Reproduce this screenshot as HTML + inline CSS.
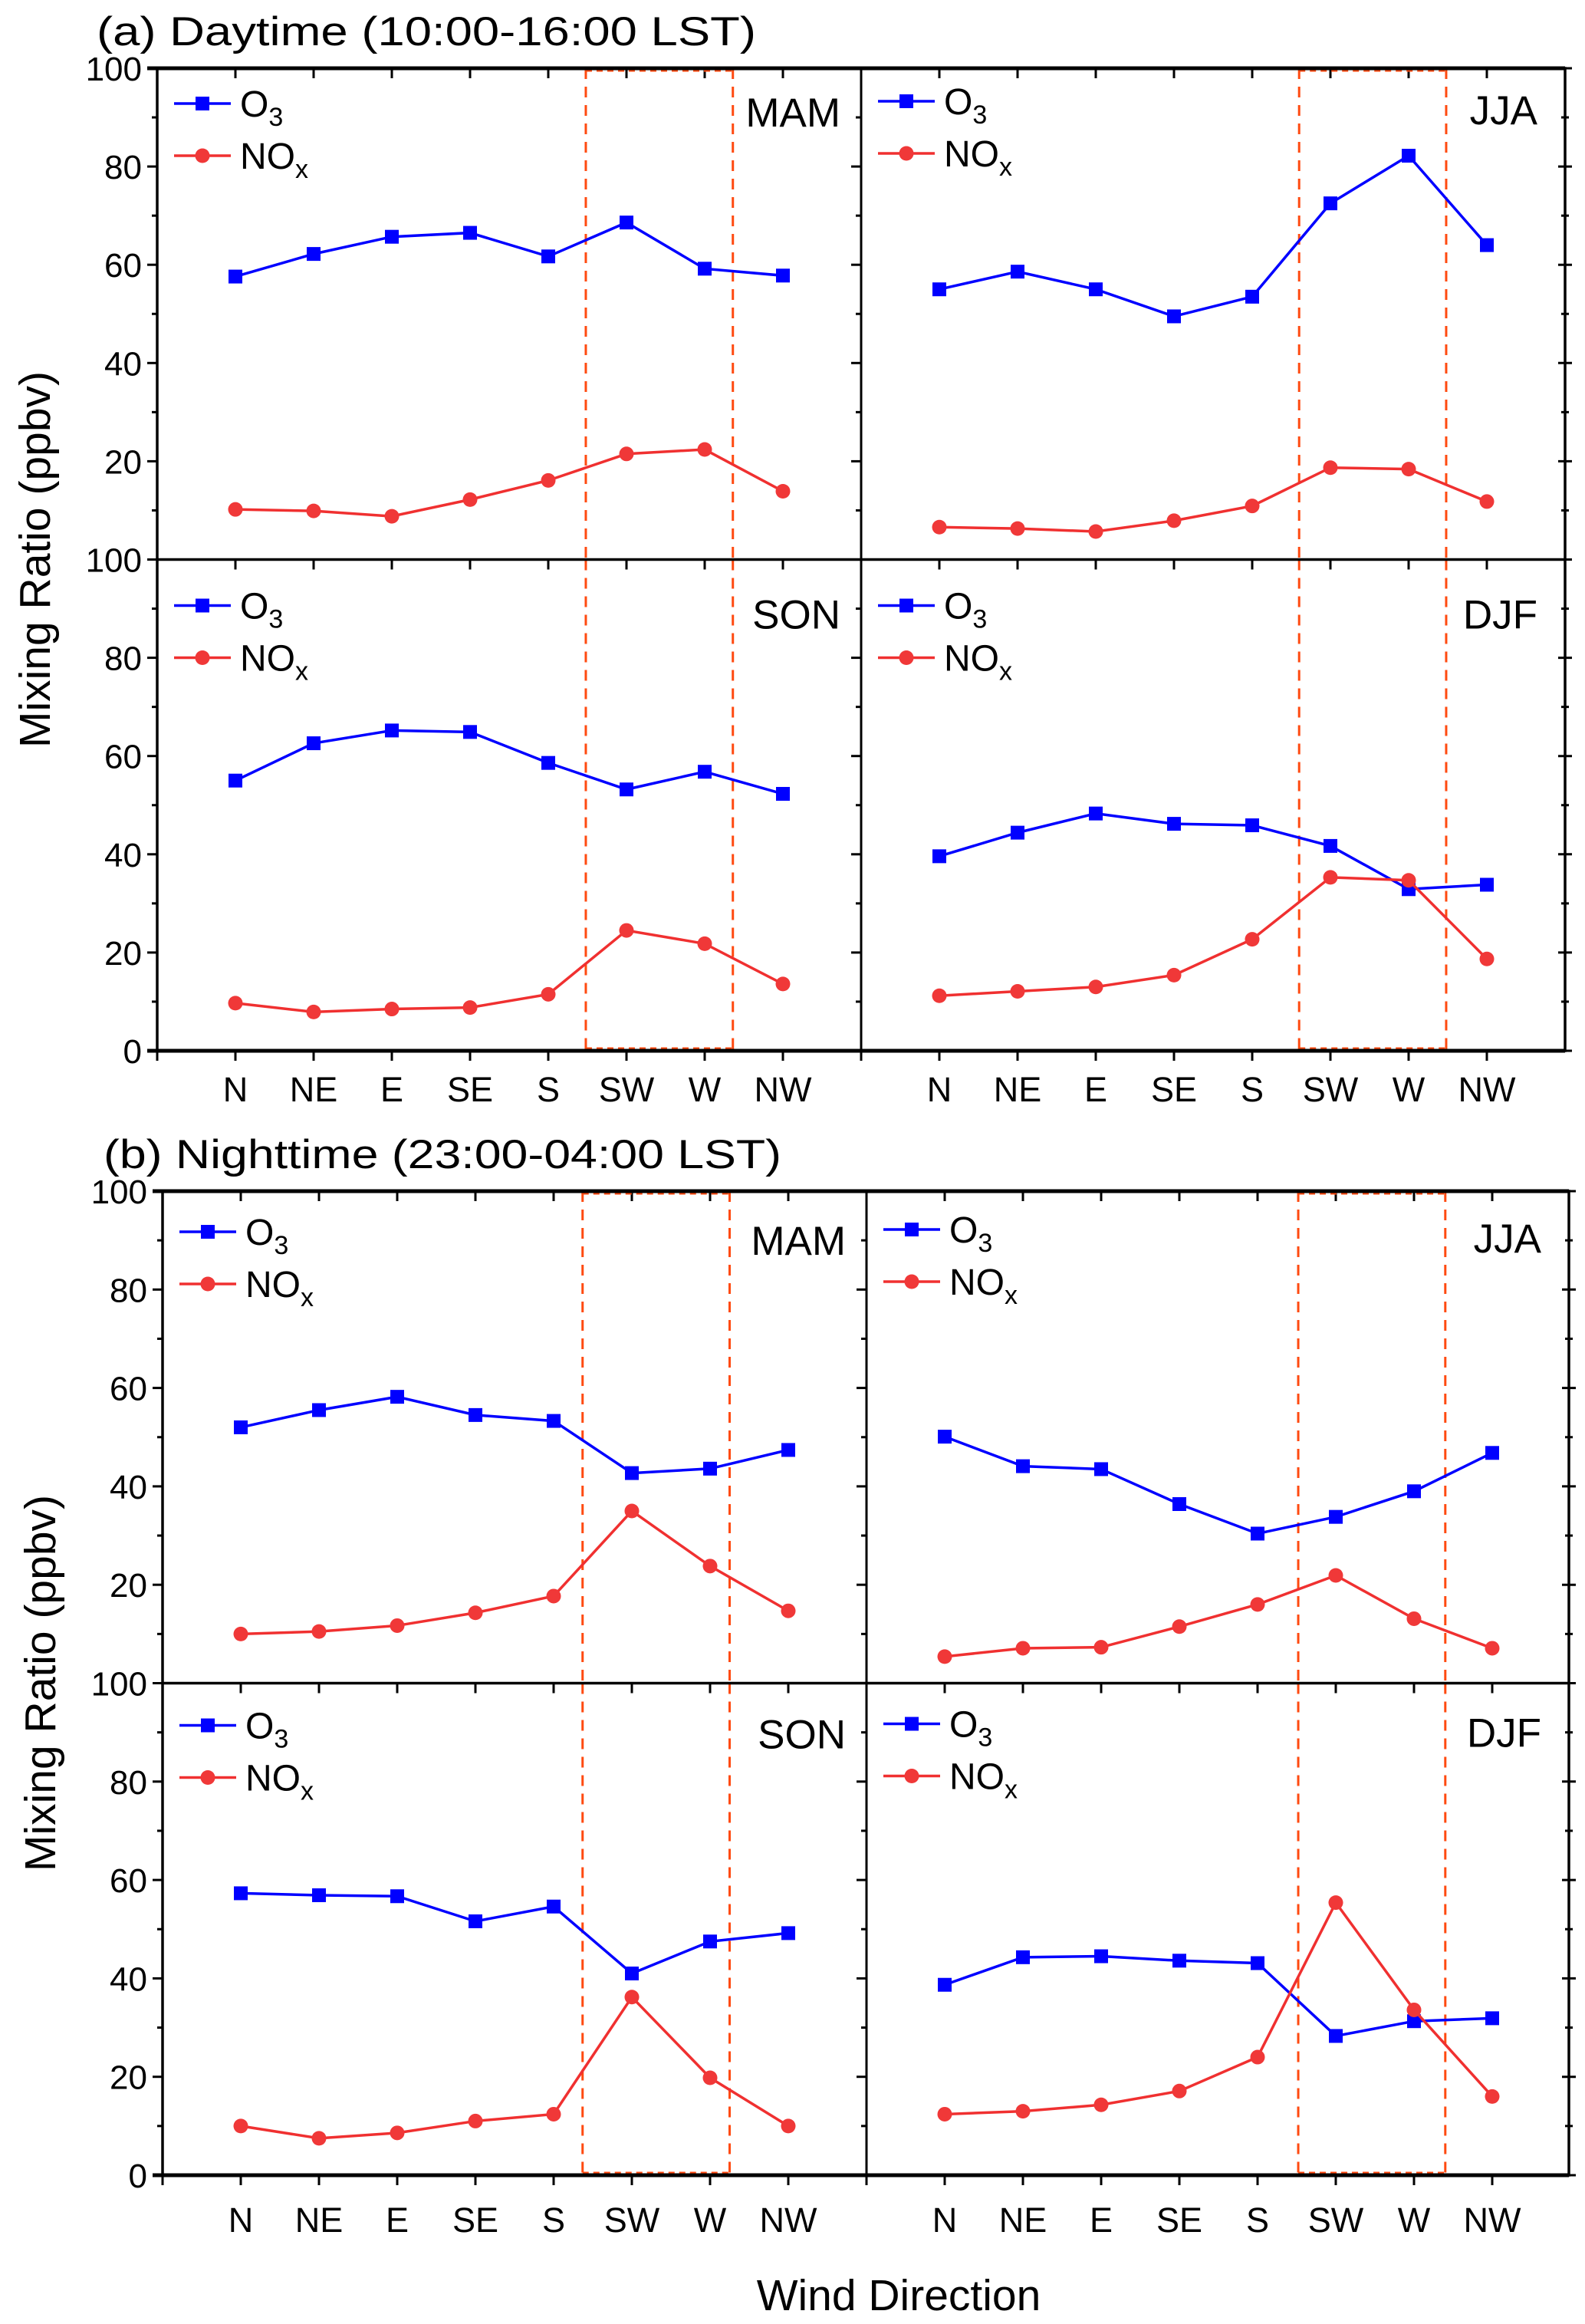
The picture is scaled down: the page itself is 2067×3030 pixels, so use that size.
<!DOCTYPE html>
<html><head><meta charset="utf-8"><style>
html,body{margin:0;padding:0;background:#fff;}
svg{display:block;font-family:"Liberation Sans",Arial,sans-serif;}
</style></head><body>
<svg id="chart" width="2067" height="3030" viewBox="0 0 2067 3030" xmlns="http://www.w3.org/2000/svg"></svg>
<script>
const categories = ["N","NE","E","SE","S","SW","W","NW"];
const yTicks = [0,20,40,60,80,100];
const seasons = ["MAM","JJA","SON","DJF"];
// Daytime
const dayO3_MAM = [57.6,62.2,65.7,66.5,61.7,68.6,59.2,57.8];
const dayNOx_MAM = [10.2,9.9,8.8,12.2,16.1,21.5,22.4,13.9];
const dayO3_JJA = [55.0,58.6,55.0,49.5,53.5,72.5,82.2,64.0];
const dayNOx_JJA = [6.6,6.3,5.7,7.9,10.9,18.7,18.4,11.8];
const dayO3_SON = [55.0,62.6,65.2,64.9,58.6,53.2,56.8,52.3];
const dayNOx_SON = [9.7,7.9,8.5,8.8,11.5,24.5,21.8,13.6];
const dayO3_DJF = [39.6,44.4,48.3,46.2,45.9,41.7,32.9,33.8];
const dayNOx_DJF = [11.2,12.1,13.0,15.4,22.7,35.3,34.7,18.7];
// Nighttime
const nightO3_MAM = [52.0,55.5,58.2,54.5,53.3,42.7,43.6,47.4];
const nightNOx_MAM = [10.0,10.5,11.7,14.3,17.7,35.0,23.8,14.7];
const nightO3_JJA = [50.1,44.1,43.5,36.4,30.4,33.8,39.0,46.8];
const nightNOx_JJA = [5.4,7.1,7.3,11.5,16.0,21.9,13.1,7.1];
const nightO3_SON = [57.3,56.9,56.7,51.6,54.6,41.0,47.5,49.2];
const nightNOx_SON = [10.0,7.5,8.6,11.0,12.4,36.2,19.8,10.0];
const nightO3_DJF = [38.7,44.3,44.5,43.6,43.1,28.3,31.3,31.9];
const nightNOx_DJF = [12.4,13.0,14.3,17.1,24.0,55.4,33.6,16.0];
// Highlighted sector bounds (category units)
const dayBoxL = [5.48,7.36], dayBoxR = [5.6,7.48];
const nightBoxL = [5.37,7.25], nightBoxR = [5.52,7.4];

const NS="http://www.w3.org/2000/svg";
const svg=document.getElementById('chart');
function mk(tag,attrs,parent){const e=document.createElementNS(NS,tag);for(const k in attrs)e.setAttribute(k,attrs[k]);(parent||svg).appendChild(e);return e;}

function drawBlock(cfg){
  const g=mk('g',{});
  
  
  const t=mk('text',{x:cfg.titleX,y:cfg.top-30,'font-size':53,fill:'#000',textLength:cfg.titleLen,lengthAdjust:'spacingAndGlyphs'},g);
  t.textContent=cfg.title;
  
  
  const bottom=cfg.bottom, top=cfg.top, mid=(top+bottom)/2, ph=mid-top;
  const colsX=[cfg.left,cfg.mid];
  const w=cfg.mid-cfg.left, step=w/9;
  const rows=[top,mid];
  for(let r=0;r<2;r++){
    for(let c=0;c<2;c++){
      const idx=r*2+c;
      const x0=colsX[c], y0=rows[r], yb=y0+ph;
      const X=i=>x0+(i+1)*step;
      const Xu=u=>x0+u*step;
      const Y=v=>yb-v/100*ph;
      const pg=mk('g',{},g);
      
      
      categories.forEach((cat,i)=>{
        mk('line',{x1:X(i),x2:X(i),y1:y0,y2:y0+13,stroke:'#000','stroke-width':3},pg);
        if(r===1){mk('line',{x1:X(i),x2:X(i),y1:yb,y2:yb+13,stroke:'#000','stroke-width':3},pg);}
      });
      if(r===1){
        mk('line',{x1:x0,x2:x0,y1:yb,y2:yb+13,stroke:'#000','stroke-width':3},pg);
        categories.forEach((cat,i)=>{
          const lt=mk('text',{x:X(i),y:cfg.catY,'font-size':45,'text-anchor':'middle',fill:'#000'},pg);
          lt.textContent=cat;
          
          
        });
      }
      for(let v=0;v<=100;v+=10){
        const major=v%20===0;
        mk('line',{x1:x0-(major?13:7),x2:x0,y1:Y(v),y2:Y(v),stroke:'#000','stroke-width':3},pg);
        if(c===1) mk('line',{x1:cfg.right-(major?9:5),x2:cfg.right+(major?9:5),y1:Y(v),y2:Y(v),stroke:'#000','stroke-width':3},pg);
      }
      if(c===0){
        yTicks.forEach(v=>{
          if(r===0 && v===0) return;
          const yt=mk('text',{x:x0-20,y:Y(v)+16,'font-size':44,'text-anchor':'end',fill:'#000'},pg);
          yt.textContent=v;
          
          
        });
      }
      const box=c===0?cfg.boxL:cfg.boxR;
      box.forEach(u=>{mk('line',{x1:Xu(u),x2:Xu(u),y1:y0,y2:yb,stroke:'#FF4A10','stroke-width':3,'stroke-dasharray':'14,10'},pg);});
      if(r===0) mk('line',{x1:Xu(box[0]),x2:Xu(box[1]),y1:y0+2,y2:y0+2,stroke:'#FF4A10','stroke-width':5,'stroke-dasharray':'8,6'},pg);
      if(r===1) mk('line',{x1:Xu(box[0]),x2:Xu(box[1]),y1:yb-2,y2:yb-2,stroke:'#FF4A10','stroke-width':5,'stroke-dasharray':'8,6'},pg);
      const o3=cfg.o3[idx], nox=cfg.nox[idx];
      const so=mk('g',{},pg);
      
      
      mk('polyline',{points:o3.map((v,i)=>X(i)+','+Y(v)).join(' '),fill:'none',stroke:'#0000FF','stroke-width':3.5},so);
      o3.forEach((v,i)=>{const m=mk('rect',{x:X(i)-9,y:Y(v)-9,width:18,height:18,fill:'#0000FF'},so);
        
        });
      const sn=mk('g',{},pg);
      
      
      mk('polyline',{points:nox.map((v,i)=>X(i)+','+Y(v)).join(' '),fill:'none',stroke:'#F03030','stroke-width':3.5},sn);
      nox.forEach((v,i)=>{const m=mk('circle',{cx:X(i),cy:Y(v),r:9.5,fill:'#F03838'},sn);
        
        });
      const lg=mk('g',{},pg);
      
      
      const lx=x0+22, ly1=y0+cfg.legY[idx], ly2=ly1+68;
      mk('line',{x1:lx,x2:lx+74,y1:ly1,y2:ly1,stroke:'#0000FF','stroke-width':3.5},lg);
      mk('rect',{x:lx+28,y:ly1-9,width:18,height:18,fill:'#0000FF'},lg);
      const t1=mk('text',{x:lx+86,y:ly1+17,'font-size':48,fill:'#000'},lg);
      t1.innerHTML='O<tspan font-size="34" dy="12">3</tspan>';
      
      
      mk('line',{x1:lx,x2:lx+74,y1:ly2,y2:ly2,stroke:'#F03030','stroke-width':3.5},lg);
      mk('circle',{cx:lx+37,cy:ly2,r:9.5,fill:'#F03838'},lg);
      const t2=mk('text',{x:lx+86,y:ly2+17,'font-size':48,fill:'#000'},lg);
      t2.innerHTML='NO<tspan font-size="34" dy="12">x</tspan>';
      
      
      const sx=(c===0?cfg.mid-27:cfg.right-36);
      const st=mk('text',{x:sx,y:y0+cfg.legY[idx]+30,'font-size':53,'text-anchor':'end',fill:'#000'},pg);
      st.textContent=seasons[idx];
      
      
    }
  }
  mk('rect',{x:cfg.left,y:top,width:cfg.right-cfg.left,height:bottom-top,fill:'none',stroke:'#000','stroke-width':3.5},g);
  mk('line',{x1:cfg.left,x2:cfg.right,y1:mid,y2:mid,stroke:'#000','stroke-width':3.5},g);
  mk('line',{x1:cfg.mid,x2:cfg.mid,y1:top,y2:bottom,stroke:'#000','stroke-width':3},g);
  mk('line',{x1:cfg.left-13,x2:cfg.right,y1:bottom,y2:bottom,stroke:'#000','stroke-width':5},g);
  mk('line',{x1:cfg.left-13,x2:cfg.right,y1:top,y2:top,stroke:'#000','stroke-width':5},g);
  const yt=mk('text',{x:0,y:0,'font-size':57,'text-anchor':'middle',fill:'#000',transform:`translate(${cfg.left-140},${mid}) rotate(-90)`},g);
  yt.textContent='Mixing Ratio (ppbv)';
  
  
}

drawBlock({name:'daytime-panels',title:'(a) Daytime (10:00-16:00 LST)',titleX:126,titleLen:860,left:205,mid:1123,right:2041,top:89,bottom:1370,catY:1436,
  boxL:dayBoxL,boxR:dayBoxR,legY:[46,43,60,60],
  o3:[dayO3_MAM,dayO3_JJA,dayO3_SON,dayO3_DJF],nox:[dayNOx_MAM,dayNOx_JJA,dayNOx_SON,dayNOx_DJF]});
drawBlock({name:'nighttime-panels',title:'(b) Nighttime (23:00-04:00 LST)',titleX:135,titleLen:884,left:212,mid:1130,right:2046,top:1553,bottom:2836,catY:2910,
  boxL:nightBoxL,boxR:nightBoxR,legY:[53,50,55,53],
  o3:[nightO3_MAM,nightO3_JJA,nightO3_SON,nightO3_DJF],nox:[nightNOx_MAM,nightNOx_JJA,nightNOx_SON,nightNOx_DJF]});

const xt=mk('text',{x:1172,y:3012,'font-size':57,'text-anchor':'middle',fill:'#000'});
xt.textContent='Wind Direction';


</script>
</body></html>
